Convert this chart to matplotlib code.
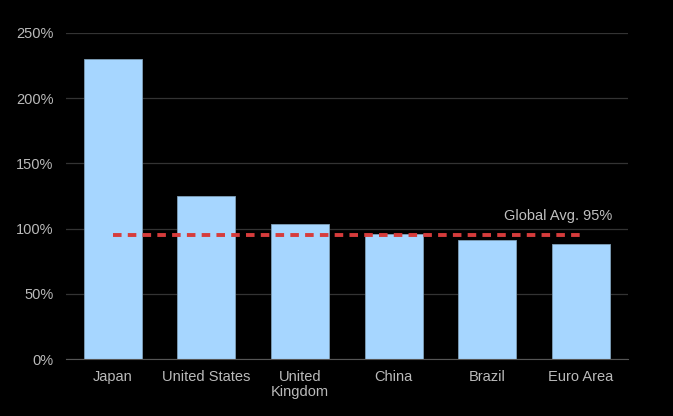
import numpy as np
import matplotlib.pyplot as plt

plt.rcParams['font.family'] = ['Liberation Sans', 'DejaVu Sans']

countries = ['Japan', 'United States', 'United\nKingdom', 'China', 'Brazil', 'Euro Area']
debt = [230, 125, 103.5, 96, 91, 88]
global_avg = 95

fig = plt.figure(figsize=(6.73, 4.16), dpi=100, facecolor='black')
ax = fig.add_axes([0.098, 0.137, 0.835, 0.784], facecolor='black')

x = np.arange(len(countries))
ax.bar(x, debt, width=0.62, color='#a6d6ff', edgecolor='#7f9fb8', linewidth=0.6, zorder=2)
ax.plot([x[0], x[-1]], [global_avg, global_avg], color='#d63c3c', lw=2.8,
        linestyle=(0, (2.2, 1.6)), zorder=3)
ax.text(x[-1] + 0.33, global_avg + 9, f'Global Avg. {global_avg}%', color='#c0c0c0',
        fontsize=10.5, ha='right', va='bottom', zorder=4)

ax.set_xlim(-0.5, len(countries) - 0.5)
ax.set_ylim(0, 250)
ax.set_yticks(range(0, 251, 50))
ax.set_yticklabels([f'{v}%' for v in range(0, 251, 50)])
ax.set_xticks(x)
ax.set_xticklabels(countries, linespacing=1.1)
ax.grid(axis='y', color='#333333', lw=0.9, zorder=0)
for s in ['top', 'right', 'left']:
    ax.spines[s].set_visible(False)
ax.spines['bottom'].set_color('#555555')
ax.tick_params(axis='both', length=0, colors='#bababa', labelsize=10.5)
ax.tick_params(axis='y', pad=9)
ax.tick_params(axis='x', pad=8)

fig.savefig('out.png', facecolor='black')
